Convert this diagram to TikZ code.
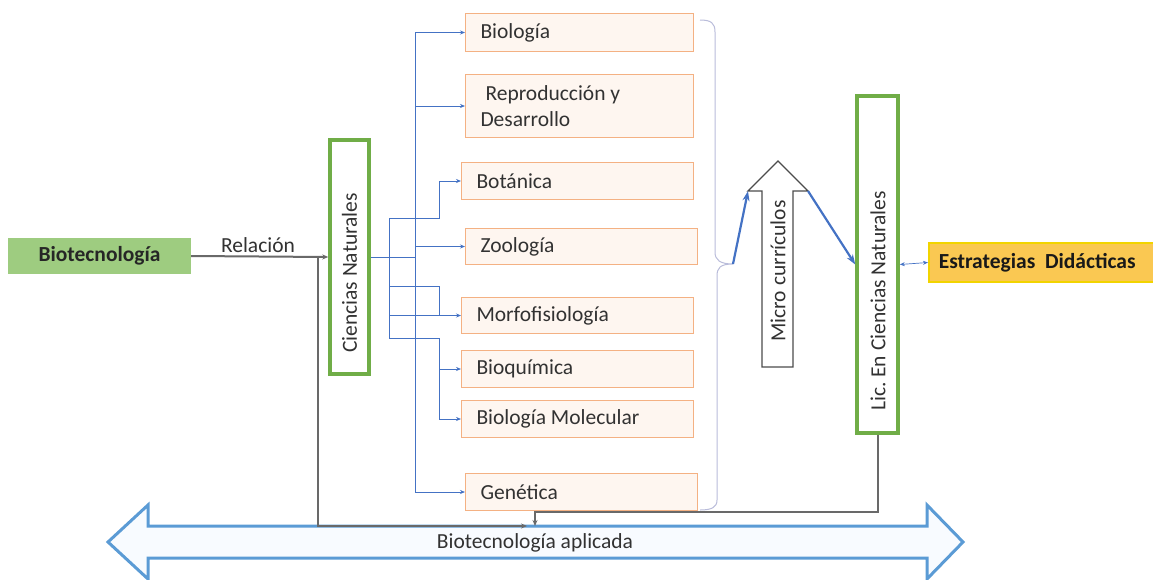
\documentclass[tikz,border=0pt]{standalone}
\usepackage{fontspec}
\setmainfont{Carlito}
\usetikzlibrary{arrows.meta,calc}
\frenchspacing
\definecolor{gline}{RGB}{105,105,105}
\definecolor{bline}{RGB}{68,114,196}
\definecolor{ngreen}{RGB}{112,173,71}
\definecolor{obord}{RGB}{244,177,131}
\definecolor{ofill}{RGB}{254,246,240}
\definecolor{abord}{RGB}{91,155,213}
\definecolor{afill}{RGB}{248,251,255}
\definecolor{bracec}{RGB}{185,188,218}
\definecolor{bgreen}{RGB}{158,204,128}
\definecolor{yfill}{RGB}{250,200,82}
\definecolor{ybord}{RGB}{242,212,0}
\definecolor{txt}{RGB}{50,50,50}
\begin{document}
\begin{tikzpicture}[x=1pt,y=-1pt,font=\fontsize{21.5}{27}\selectfont,
  obox/.style={draw=obord,fill=ofill,line width=1pt,inner xsep=15pt,inner ysep=0pt,anchor=north west,align=flush left,text=txt},
  gbox/.style={draw=ngreen,fill=white,line width=3.5pt},
  bl/.style={draw=bline,line width=0.7pt},
  barr/.style={bl,-{Stealth[length=5pt,width=4pt]}},
  gl/.style={draw=gline,line width=2pt},
  garr/.style={gl,-{Stealth[length=6pt,width=5pt]}},
  tb/.style={draw=bline,line width=2.2pt,-{Stealth[length=10pt,width=7pt]}},
  lbl/.style={text=txt,inner sep=0pt}]
\useasboundingbox (0,0) rectangle (1153,579);
% big double arrow
\draw[draw=abord,line width=3pt,fill=afill,line join=miter]
  (108,542) -- (148,505) -- (148,526) -- (927,526) -- (927,505) -- (963,542)
  -- (927,579) -- (927,558) -- (148,558) -- (148,579) -- cycle;
\node[lbl] (apl) at (535,543) {Biotecnología aplicada};
% left nodes
\node[fill=bgreen,minimum width=183pt,minimum height=36pt,inner sep=0pt,font=\fontsize{21.5}{27}\selectfont\bfseries,text=black!85] (bio) at (99.5,256) {Biotecnología};
\node[gbox,minimum width=39pt,minimum height=234pt] (cn) at (349.5,257) {};
\node[lbl,rotate=90] (cntext) at (349.5,273) {Ciencias Naturales};
% subject boxes
\node[obox,text width=198pt,minimum height=38pt] (biol) at (465,13) {Biología};
\node[obox,text width=198pt,minimum height=63pt] (repro) at (465,74) {\hspace*{5pt}Reproducción y\\[-1pt]Desarrollo};
\node[obox,text width=202pt,minimum height=37pt] (bot) at (461,162) {Botánica};
\node[obox,text width=202pt,minimum height=36pt] (zool) at (465,228) {Zoología};
\node[obox,text width=202pt,minimum height=36pt] (morf) at (461,297) {Morfofisiología};
\node[obox,text width=202pt,minimum height=37pt] (bioq) at (461,350) {Bioquímica};
\node[obox,text width=202pt,minimum height=37pt] (bmol) at (461,400) {Biología Molecular};
\node[obox,text width=202pt,minimum height=37pt] (gen) at (465,473) {Genética};
% right nodes
\node[gbox,minimum width=41pt,minimum height=337pt] (lic) at (877.5,264.5) {};
\node[lbl,rotate=90] (lictext) at (878,301) {Lic. En Ciencias Naturales};
\node[fill=yfill,draw=ybord,line width=1.5pt,anchor=west,minimum height=39pt,inner xsep=10pt,text width=225pt,align=flush left,font=\fontsize{21.5}{27}\selectfont\bfseries,text=black!90] (est) at (928,262.5) {Estrategias\ \ Didácticas};
% hollow arrow
\coordinate (mcL) at (748,191);
\coordinate (mcR) at (808,191);
\draw[draw=black!70,line width=1.3pt,fill=white] (762,367) -- (762,191) -- (mcL) -- (778,161) -- (mcR) -- (793,191) -- (793,367) -- cycle;
\node[lbl,rotate=90] (mc) at (778,271) {Micro currículos};
% brace
\coordinate (brtip) at (733,264);
\draw[draw=bracec,line width=1pt] (700,20) .. controls (711,20) and (715,23) .. (715,32) -- (715,252)
  .. controls (715,260) and (720,264) .. (brtip)
  .. controls (720,264) and (717,268) .. (717,276) -- (717,500)
  .. controls (717,507) and (712,510) .. (700,510);
% gray connectors
\coordinate (j1) at (318,256);
\coordinate (apl1) at (527,526);
\coordinate (ljog) at (535,512);
\coordinate (apl2) at (535,526);
\draw[garr] (bio.east) -- (cn.west);
\node[lbl] (rel) at (258,245) {Relación};
\draw[garr] (j1) |- (apl1);
\draw[garr] (lic.south) |- (ljog) -- (apl2);
% blue connectors
\coordinate (t1) at (415,257);
\coordinate (t2) at (389,257);
\coordinate (b1) at (439,218);
\coordinate (b2) at (439,286);
\coordinate (b3) at (439,338);
\draw[bl] (cn.east) -- (t1);
\draw[barr] (t1) |- (biol.west);
\draw[barr] (t1) |- (repro.west);
\draw[barr] (t1) |- (zool.west);
\draw[barr] (t1) |- (gen.west);
\draw[barr] (t2) |- (b1) |- (bot.west);
\draw[bl] (t2) |- (b2) -- (b2 |- morf.west);
\draw[barr] (t2) |- (morf.west);
\draw[barr] (t2) |- (b3) |- (bioq.west);
\draw[barr] (b3) |- (bmol.west);
% thick blue
\draw[tb] (brtip) -- (mcL);
\draw[tb] (mcR) -- (lic.west);
\draw[bl,{Stealth[length=5pt,width=4pt]}-{Stealth[length=5pt,width=4pt]}] (lic.east) -- (est.west);
\end{tikzpicture}
\end{document}
